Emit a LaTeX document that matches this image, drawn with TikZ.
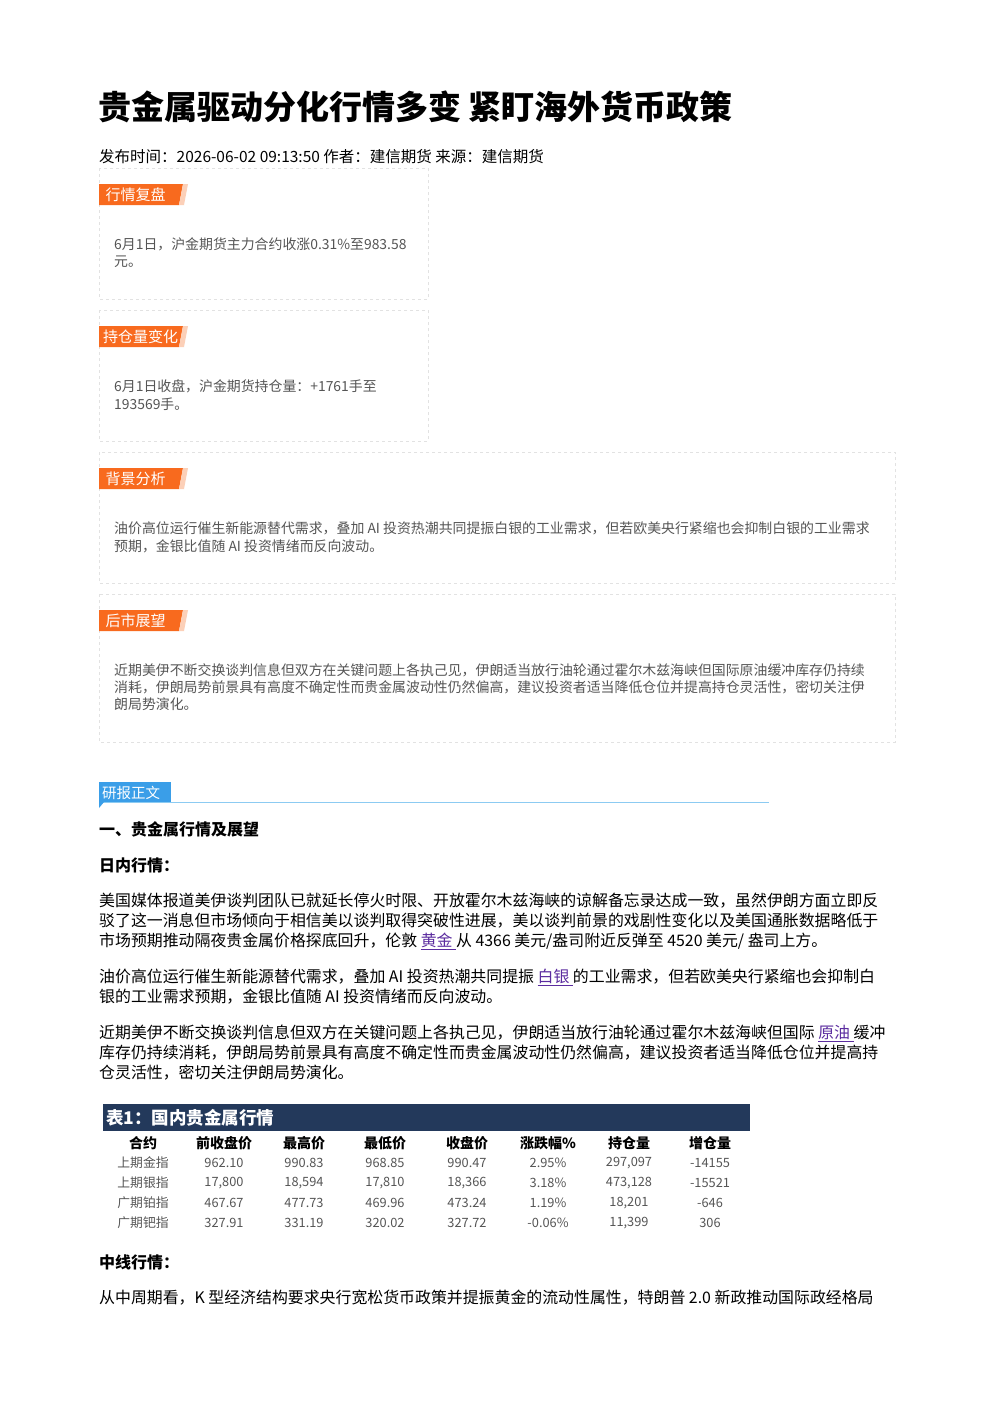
\documentclass[tikz,border=0pt]{standalone}
\usepackage{fontspec}
\setmainfont{Noto Sans CJK SC}
\definecolor{boxline}{HTML}{E2E2E2}
\definecolor{tagor}{HTML}{F86A1E}
\definecolor{tagli}{HTML}{FCD0B8}
\definecolor{graytx}{HTML}{555555}
\definecolor{navy}{HTML}{23395B}
\definecolor{linkc}{HTML}{5B2C9F}
\definecolor{bluet}{HTML}{3A9EE8}
\definecolor{bluel}{HTML}{8CCBF2}
\begin{document}
\begin{tikzpicture}[x=1pt,y=-1pt,
  ln/.style={anchor=west,inner sep=0pt,font=\fontsize{15.9}{18}\selectfont},
  bx/.style={anchor=west,inner sep=0pt,text=graytx,font=\fontsize{13.9}{15}\selectfont},
  card/.style={draw=boxline,dashed,line width=0.6pt},
  tagt/.style={anchor=west,inner sep=0pt,text=white,font=\fontsize{15}{17}\selectfont},
  th/.style={inner sep=0pt,font=\fontsize{14}{16}\selectfont\bfseries},
  td/.style={inner sep=0pt,text=graytx,font=\fontsize{12.8}{14}\selectfont}]
\useasboundingbox (0,0) rectangle (992,1403);
\fill[white] (0,0) rectangle (992,1403);
\node[anchor=west,inner sep=0pt,font=\fontsize{33}{36}\selectfont\bfseries] (title) at (98,107) {贵金属驱动分化行情多变 紧盯海外货币政策};
\node[ln,font=\fontsize{15.5}{17}\selectfont] (meta) at (99,157) {发布时间：2026-06-02 09:13:50 作者：建信期货 来源：建信期货};
% cards
\newcommand\tagbox[3]{%
  \fill[tagor] (99,#1) -- (183,#1) -- (179,#1+21) -- (99,#1+21) -- cycle;
  \fill[tagli] (183,#1) -- (188,#1) -- (184,#1+21) -- (179,#1+21) -- cycle;
  \node[tagt] (#3) at (103,#1+10.5) {#2};}
\draw[card] (99,168) rectangle (428,299);
\tagbox{184}{\,行情复盘}{t1}
\node[bx] (b1a) at (114,244) {6月1日，沪金期货主力合约收涨0.31\%至983.58};
\node[bx] (b1b) at (114,262) {元。};
\draw[card] (99,310) rectangle (428,441);
\tagbox{326}{持仓量变化}{t2}
\node[bx] (b2a) at (114,386) {6月1日收盘，沪金期货持仓量：+1761手至};
\node[bx] (b2b) at (114,404) {193569手。};
\draw[card] (99,452) rectangle (895,583);
\tagbox{468}{\,背景分析}{t3}
\node[bx] (b3a) at (114,528) {油价高位运行催生新能源替代需求，叠加 AI 投资热潮共同提振白银的工业需求，但若欧美央行紧缩也会抑制白银的工业需求};
\node[bx] (b3b) at (114,546) {预期，金银比值随 AI 投资情绪而反向波动。};
\draw[card] (99,594) rectangle (895,742);
\tagbox{610}{\,后市展望}{t4}
\node[bx] (b4a) at (114,670) {近期美伊不断交换谈判信息但双方在关键问题上各执己见，伊朗适当放行油轮通过霍尔木兹海峡但国际原油缓冲库存仍持续};
\node[bx] (b4b) at (114,687) {消耗，伊朗局势前景具有高度不确定性而贵金属波动性仍然偏高，建议投资者适当降低仓位并提高持仓灵活性，密切关注伊};
\node[bx] (b4c) at (114,704) {朗局势演化。};
% report header
\draw[bluel,line width=0.8pt] (99,802) -- (769,802);
\fill[bluet] (99,782) rectangle (171,802);
\fill[bluet] (99,802) -- (104,802) -- (99,808) -- cycle;
\node[tagt,font=\fontsize{14.5}{16}\selectfont] (rb) at (102,793) {研报正文};
\node[ln,font=\fontsize{16}{18}\selectfont\bfseries] (h1) at (99,829) {一、贵金属行情及展望};
\node[ln,font=\fontsize{16}{18}\selectfont\bfseries] (h2) at (99,865) {日内行情：};
\node[ln] (p1a) at (99,901) {美国媒体报道美伊谈判团队已就延长停火时限、开放霍尔木兹海峡的谅解备忘录达成一致，虽然伊朗方面立即反};
\node[ln] (p1b) at (99,921) {驳了这一消息但市场倾向于相信美以谈判取得突破性进展，美以谈判前景的戏剧性变化以及美国通胀数据略低于};
\node[ln] (p1c) at (99,941) {市场预期推动隔夜贵金属价格探底回升，伦敦 {\color{linkc}\underline{黄金 }}从 4366 美元/盎司附近反弹至 4520 美元/ 盎司上方。};
\node[ln] (p2a) at (99,977) {油价高位运行催生新能源替代需求，叠加 AI 投资热潮共同提振 {\color{linkc}\underline{白银 }}的工业需求，但若欧美央行紧缩也会抑制白};
\node[ln] (p2b) at (99,997) {银的工业需求预期，金银比值随 AI 投资情绪而反向波动。};
\node[ln] (p3a) at (99,1033) {近期美伊不断交换谈判信息但双方在关键问题上各执己见，伊朗适当放行油轮通过霍尔木兹海峡但国际 {\color{linkc}\underline{原油 }}缓冲};
\node[ln] (p3b) at (99,1053) {库存仍持续消耗，伊朗局势前景具有高度不确定性而贵金属波动性仍然偏高，建议投资者适当降低仓位并提高持};
\node[ln] (p3c) at (99,1073) {仓灵活性，密切关注伊朗局势演化。};
% table
\fill[navy] (103,1104) rectangle (750,1131);
\node[anchor=west,inner sep=0pt,text=white,font=\fontsize{17.5}{19}\selectfont\bfseries] (tt) at (106,1118) {表1：国内贵金属行情};
\foreach \x/\t [count=\i] in {143/合约,224/前收盘价,304/最高价,385/最低价,467/收盘价,548/涨跌幅\%,629/持仓量,710/增仓量}
  \node[th] (th\i) at (\x,1143) {\t};
\foreach \r/\y in {{上期金指,962.10,990.83,968.85,990.47,2.95\%,{297,097},-14155}/1163,
                   {上期银指,{17,800},{18,594},{17,810},{18,366},3.18\%,{473,128},-15521}/1183,
                   {广期铂指,467.67,477.73,469.96,473.24,1.19\%,{18,201},-646}/1203,
                   {广期钯指,327.91,331.19,320.02,327.72,-0.06\%,{11,399},306}/1223}{
  \foreach \v [count=\j] in \r {
    \pgfmathsetmacro\cx{{143,224,304,385,467,548,629,710}[\j-1]}
    \node[td] at (\cx,\y) {\v};
  }}
\node[ln,font=\fontsize{16}{18}\selectfont\bfseries] (h3) at (99,1262) {中线行情：};
\node[ln] (p4) at (99,1298) {从中周期看，K 型经济结构要求央行宽松货币政策并提振黄金的流动性属性，特朗普 2.0 新政推动国际政经格局};
\end{tikzpicture}
\end{document}
